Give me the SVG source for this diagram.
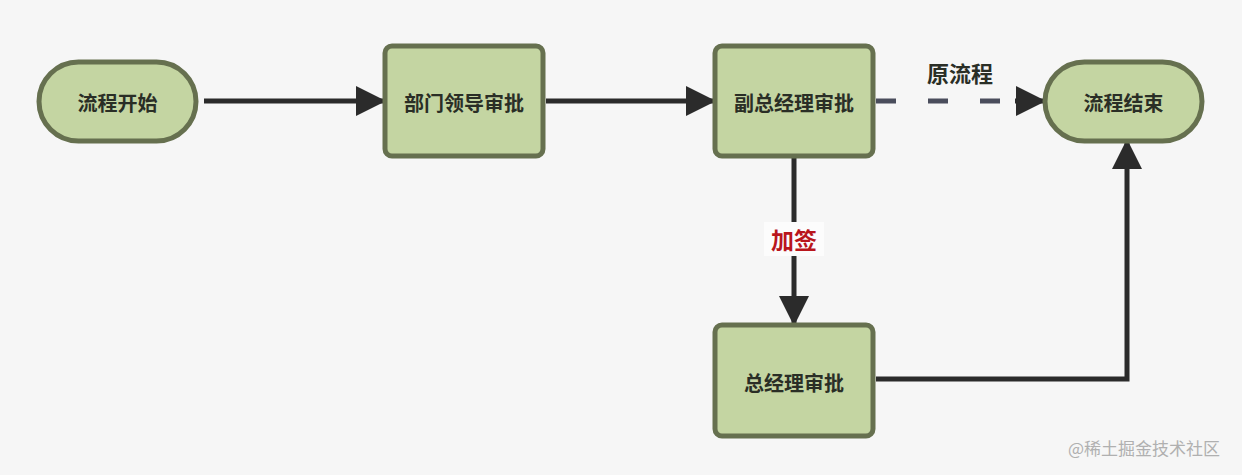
<svg xmlns="http://www.w3.org/2000/svg" width="1242" height="475" viewBox="0 0 1242 475">
<defs>
<style>
.node{fill:#c4d5a2;stroke:#66704f;stroke-width:5}
.lbl{font-family:"Noto Sans CJK SC","Noto Sans",sans-serif;font-weight:bold;font-size:20px;fill:#2a2e26;text-anchor:middle;dominant-baseline:central}
.edge{fill:none;stroke:#2b2b2b;stroke-width:5}
.dash{fill:none;stroke:#4a4d5c;stroke-width:5;stroke-dasharray:20 32}
</style>
<marker id="arr" markerWidth="6" markerHeight="6" refX="5.4" refY="3" orient="auto" markerUnits="strokeWidth" viewBox="0 0 6 6">
<path d="M0,0 L6,3 L0,6 Z" fill="#2b2b2b"/>
</marker>
</defs>
<rect width="1242" height="475" fill="#f6f6f6"/>
<g id="connectors">
<path class="edge" d="M204,101 H383" marker-end="url(#arr)"/>
<path class="edge" d="M546,101 H713" marker-end="url(#arr)"/>
<path class="dash" d="M876,101 H1015"/>
<path class="edge" d="M1015,101 H1043" stroke="none" marker-end="url(#arr)"/>
<path class="edge" d="M794,158 V323" marker-end="url(#arr)"/>
<path class="edge" d="M876,379 H1127 V142" marker-end="url(#arr)"/>
<rect x="764" y="222" width="60" height="34" fill="#fcfcfc"/>
<text x="794" y="239" class="lbl" style="fill:#b9161c;font-size:23px">加签</text>
<text x="960" y="72" class="lbl" style="font-size:22px">原流程</text>
</g>
<g id="start"><rect class="node" x="39" y="62" width="157" height="79" rx="39.5"/><text class="lbl" x="117.5" y="102">流程开始</text></g>
<g id="dept"><rect class="node" x="385" y="46" width="158" height="110" rx="7"/><text class="lbl" x="464" y="102">部门领导审批</text></g>
<g id="vgm"><rect class="node" x="715" y="46" width="158" height="110" rx="7"/><text class="lbl" x="794" y="102">副总经理审批</text></g>
<g id="end"><rect class="node" x="1045" y="62" width="157" height="79" rx="39.5"/><text class="lbl" x="1123.5" y="102">流程结束</text></g>
<g id="gm"><rect class="node" x="715" y="325" width="158" height="111" rx="7"/><text class="lbl" x="794" y="382">总经理审批</text></g>
<text x="1144" y="447" style="font-family:'Noto Sans CJK SC',sans-serif;font-size:17px;fill:#b0b0b0;text-anchor:middle;dominant-baseline:central">@稀土掘金技术社区</text>
</svg>
